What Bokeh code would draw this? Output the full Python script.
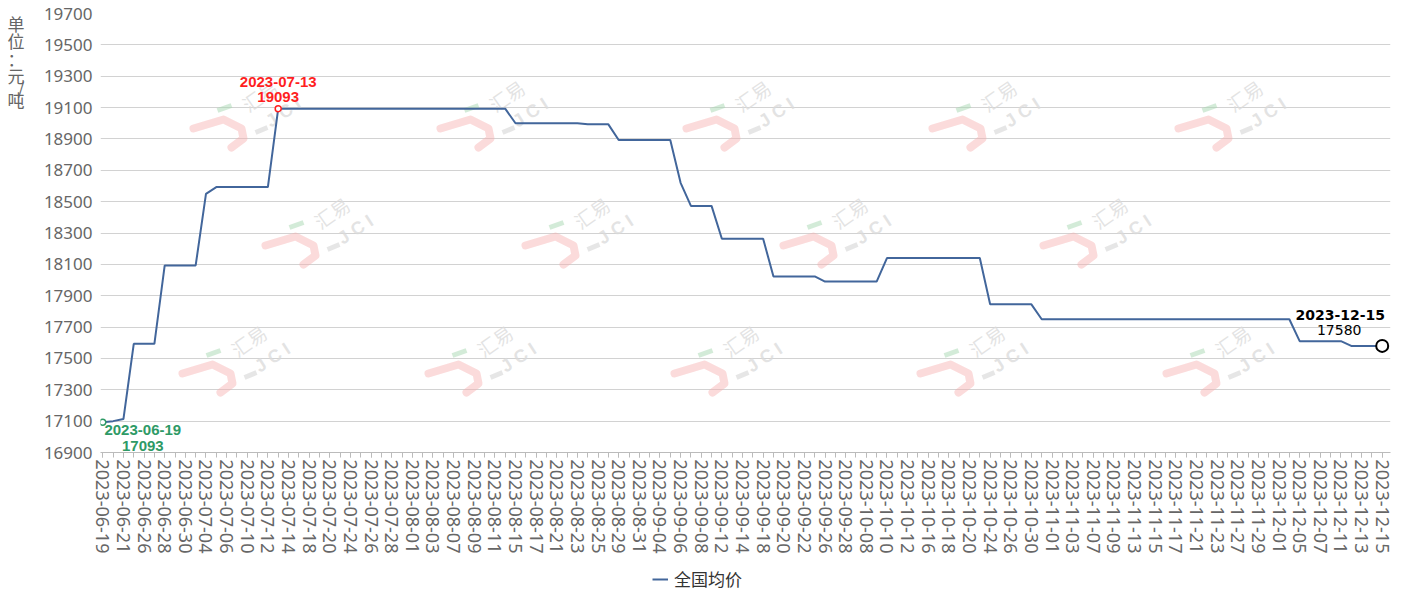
import math
from bokeh.plotting import figure
from bokeh.layouts import column
from bokeh.models import Range1d, FixedTicker, Label, Legend, LegendItem, LinearAxis
from bokeh.core.properties import value
from bokeh.embed import file_html
from bokeh.resources import INLINE

# ---------------- data ----------------
dates = [
    "2023-06-19", "2023-06-20", "2023-06-21", "2023-06-25", "2023-06-26", "2023-06-27",
    "2023-06-28", "2023-06-29", "2023-06-30", "2023-07-03", "2023-07-04", "2023-07-05",
    "2023-07-06", "2023-07-07", "2023-07-10", "2023-07-11", "2023-07-12", "2023-07-13",
    "2023-07-14", "2023-07-17", "2023-07-18", "2023-07-19", "2023-07-20", "2023-07-21",
    "2023-07-24", "2023-07-25", "2023-07-26", "2023-07-27", "2023-07-28", "2023-07-31",
    "2023-08-01", "2023-08-02", "2023-08-03", "2023-08-04", "2023-08-07", "2023-08-08",
    "2023-08-09", "2023-08-10", "2023-08-11", "2023-08-14", "2023-08-15", "2023-08-16",
    "2023-08-17", "2023-08-18", "2023-08-21", "2023-08-22", "2023-08-23", "2023-08-24",
    "2023-08-25", "2023-08-28", "2023-08-29", "2023-08-30", "2023-08-31", "2023-09-01",
    "2023-09-04", "2023-09-05", "2023-09-06", "2023-09-07", "2023-09-08", "2023-09-11",
    "2023-09-12", "2023-09-13", "2023-09-14", "2023-09-15", "2023-09-18", "2023-09-19",
    "2023-09-20", "2023-09-21", "2023-09-22", "2023-09-25", "2023-09-26", "2023-09-27",
    "2023-09-28", "2023-10-07", "2023-10-08", "2023-10-09", "2023-10-10", "2023-10-11",
    "2023-10-12", "2023-10-13", "2023-10-16", "2023-10-17", "2023-10-18", "2023-10-19",
    "2023-10-20", "2023-10-23", "2023-10-24", "2023-10-25", "2023-10-26", "2023-10-27",
    "2023-10-30", "2023-10-31", "2023-11-01", "2023-11-02", "2023-11-03", "2023-11-06",
    "2023-11-07", "2023-11-08", "2023-11-09", "2023-11-10", "2023-11-13", "2023-11-14",
    "2023-11-15", "2023-11-16", "2023-11-17", "2023-11-20", "2023-11-21", "2023-11-22",
    "2023-11-23", "2023-11-24", "2023-11-27", "2023-11-28", "2023-11-29", "2023-11-30",
    "2023-12-01", "2023-12-04", "2023-12-05", "2023-12-06", "2023-12-07", "2023-12-08",
    "2023-12-11", "2023-12-12", "2023-12-13", "2023-12-14", "2023-12-15",
]

prices = [
    17093, 17100, 17113, 17593, 17593, 17593,
    18093, 18093, 18093, 18093, 18550, 18593,
    18593, 18593, 18593, 18593, 18593, 19093,
    19093, 19093, 19093, 19093, 19093, 19093,
    19093, 19093, 19093, 19093, 19093, 19093,
    19093, 19093, 19093, 19093, 19093, 19093,
    19093, 19093, 19093, 19093, 19000, 19000,
    19000, 19000, 19000, 19000, 19000, 18993,
    18993, 18993, 18893, 18893, 18893, 18893,
    18893, 18893, 18620, 18473, 18473, 18473,
    18263, 18263, 18263, 18263, 18263, 18023,
    18023, 18023, 18023, 18023, 17990, 17990,
    17990, 17990, 17990, 17990, 18140, 18140,
    18140, 18140, 18140, 18140, 18140, 18140,
    18140, 18140, 17845, 17845, 17845, 17845,
    17845, 17750, 17750, 17750, 17750, 17750,
    17750, 17750, 17750, 17750, 17750, 17750,
    17750, 17750, 17750, 17750, 17750, 17750,
    17750, 17750, 17750, 17750, 17750, 17750,
    17750, 17750, 17610, 17610, 17610, 17610,
    17610, 17580, 17580, 17580, 17580,
]

y_ticks = [16900, 17100, 17300, 17500, 17700, 17900, 18100, 18300,
           18500, 18700, 18900, 19100, 19300, 19500, 19700]
series_name = "全国均价"
unit_chars = ["单", "位", "：", "元", "/", "吨"]

# ---------------- styles ----------------
LINE_COLOR = "#42669b"
GREEN = "#2e9a66"
RED = "#ff1f1f"
GRID = "#d2d2d2"
TICK_TEXT = "#666666"
NUM_FONT = "Noto Sans"
CJK_FONT = "Noto Sans CJK SC"

W, H = 1400, 566
LEG_H = 26
FL, FR, FT, FB = 100, 1390, 13, 452          # frame edges (px)
X0, X1 = -0.223, 124.804
Y0, Y1 = 16900, 19700

p = figure(width=W, height=H, x_range=Range1d(X0, X1), y_range=Range1d(Y0, Y1),
           output_backend="svg", toolbar_location=None,
           min_border_left=FL, min_border_right=W - FR, min_border_top=FT,
           min_border_bottom=H - FB)
p.outline_line_color = None
p.background_fill_color = "white"
p.border_fill_color = "white"
p.xgrid.visible = False
p.ygrid.grid_line_color = GRID
p.ygrid.grid_line_width = 1

# y axis
yax = p.yaxis[0]
yax.ticker = FixedTicker(ticks=y_ticks)
yax.axis_line_color = None
yax.major_tick_line_color = None
yax.minor_tick_line_color = None
yax.major_tick_out = 0
yax.major_tick_in = 0
yax.minor_tick_out = 0
yax.major_label_text_font = NUM_FONT
yax.major_label_text_font_size = "17px"
yax.major_label_text_color = TICK_TEXT
yax.major_label_standoff = 8

# x axis
idx = list(range(len(dates)))
xax = p.xaxis[0]
xax.ticker = FixedTicker(ticks=idx[::2], minor_ticks=idx)
xax.major_label_overrides = {i: dates[i] for i in idx[::2]}
xax.major_label_orientation = -math.pi / 2
xax.major_label_text_font = NUM_FONT
xax.major_label_text_font_size = "18px"
xax.major_label_text_color = TICK_TEXT
xax.major_label_standoff = 2
xax.axis_line_color = "#bbbbbb"
xax.major_tick_line_color = "#bbbbbb"
xax.minor_tick_line_color = "#bbbbbb"
xax.major_tick_in = 0
xax.major_tick_out = 5
xax.minor_tick_in = 0
xax.minor_tick_out = 5

# pixel -> data helpers (for decorative placement only)
def dx(px):
    return X0 + (px - FL) * (X1 - X0) / (FR - FL)

def dy(py):
    return Y1 - (py - FT) * (Y1 - Y0) / (FB - FT)

# ---------------- unit label: outer left axis carrying upright characters ----------------
unit_py = [23, 40, 58, 75, 87, 99]
unit_vals = [int(round(dy(py))) for py in unit_py]
uax = LinearAxis(ticker=FixedTicker(ticks=unit_vals),
                 major_label_overrides={v: ch for v, ch in zip(unit_vals, unit_chars)})
uax.axis_line_color = None
uax.major_tick_line_color = None
uax.minor_tick_line_color = None
uax.major_tick_out = 0
uax.major_tick_in = 0
uax.minor_tick_out = 0
uax.major_label_text_font = CJK_FONT
uax.major_label_text_font_size = "17px"
uax.major_label_text_color = TICK_TEXT
uax.major_label_standoff = 16
p.add_layout(uax, "left")

# ---------------- watermark (decorative) ----------------
wm_x = [193, 440, 686, 932, 1178, 265, 525, 783, 1043, 182, 428, 674, 920, 1166]
wm_y = [118, 118, 118, 118, 118, 235, 235, 235, 235, 363, 363, 363, 363, 363]
hook_xs, hook_ys, g_xs, g_ys, b_xs, b_ys = [], [], [], [], [], []
t1x, t1y, t2x, t2y = [], [], [], []
for ax, ay in zip(wm_x, wm_y):
    hook_xs.append([dx(ax + o) for o in (0, 30, 48, 50, 38)])
    hook_ys.append([dy(ay + o) for o in (10, 1, 10, 20, 29)])
    g_xs.append([dx(ax + 24), dx(ax + 38)])
    g_ys.append([dy(ay - 8), dy(ay - 13)])
    b_xs.append([dx(ax + 62), dx(ax + 74)])
    b_ys.append([dy(ay + 14), dy(ay + 9)])
    t1x.append(dx(ax + 66)); t1y.append(dy(ay - 23))
    t2x.append(dx(ax + 90)); t2y.append(dy(ay - 6))

p.multi_line(hook_xs, hook_ys, line_color="#f7b0b0", line_width=8, line_alpha=0.45,
             line_join="round", line_cap="round")
p.multi_line(g_xs, g_ys, line_color="#a8d8b2", line_width=5, line_alpha=0.5)
p.multi_line(b_xs, b_ys, line_color="#d6d6d6", line_width=5, line_alpha=0.6)
p.text(t1x, t1y, text=["汇易"] * len(t1x), angle=math.radians(35),
       text_font=value(CJK_FONT), text_font_size="19px", text_color="#dadada",
       text_alpha=0.75, text_align="center", text_baseline="middle")
p.text(t2x, t2y, text=["J C I"] * len(t2x), angle=math.radians(33),
       text_font=value("Liberation Sans"), text_font_style="bold", text_font_size="18px",
       text_color="#dadada", text_alpha=0.75, text_align="center", text_baseline="middle")

# ---------------- main line ----------------
r = p.line(idx, prices, line_color=LINE_COLOR, line_width=2)

imin = prices.index(min(prices))
imax = prices.index(max(prices))
ilast = len(prices) - 1

p.scatter([imin], [prices[imin]], marker="circle", size=6, fill_color="white",
          line_color=GREEN, line_width=1.5)
p.scatter([imax], [prices[imax]], marker="circle", size=6, fill_color="white",
          line_color=RED, line_width=1.5)
p.scatter([ilast], [prices[ilast]], marker="circle", size=12, fill_color="white",
          line_color="black", line_width=2)

def add_label(i, text, xo, yo, color, font, size, bold):
    p.add_layout(Label(x=i, y=prices[i], text=text, x_offset=xo, y_offset=yo,
                       text_align="center", text_baseline="middle", text_color=color,
                       text_font=font, text_font_size=size,
                       text_font_style="bold" if bold else "normal"))

add_label(imax, dates[imax], 0, 27, RED, "Liberation Sans", "15px", True)
add_label(imax, str(prices[imax]), 0, 12, RED, "Liberation Sans", "15px", True)
add_label(imin, dates[imin], 40, -8, GREEN, "Liberation Sans", "15px", True)
add_label(imin, str(prices[imin]), 40, -24, GREEN, "Liberation Sans", "15px", True)
add_label(ilast, dates[ilast], -42, 31, "black", "DejaVu Sans", "14px", True)
add_label(ilast, str(prices[ilast]), -43, 16, "black", "DejaVu Sans", "14px", False)

# ---------------- legend (separate strip below) ----------------
lg = figure(width=W, height=LEG_H, x_range=Range1d(X0, X1), y_range=Range1d(0, 1),
            output_backend="svg", toolbar_location=None,
            min_border_left=0, min_border_right=0, min_border_top=0, min_border_bottom=0)
lg.axis.visible = False
lg.grid.visible = False
lg.outline_line_color = None
lg.background_fill_color = "white"
lg.border_fill_color = "white"
r2 = lg.line(idx, prices, line_color=LINE_COLOR, line_width=2)
legend = Legend(items=[LegendItem(label=series_name, renderers=[r2])],
                location=(552, 1), orientation="horizontal",
                border_line_color=None, background_fill_alpha=0,
                label_text_font=CJK_FONT, label_text_font_size="17px",
                label_text_color="#333333", glyph_width=16, glyph_height=16,
                padding=0, margin=0, spacing=0, label_standoff=6,
                label_height=18)
lg.add_layout(legend)

layout = column(p, lg, spacing=0)
open("out.html", "w").write(file_html(layout, INLINE))
